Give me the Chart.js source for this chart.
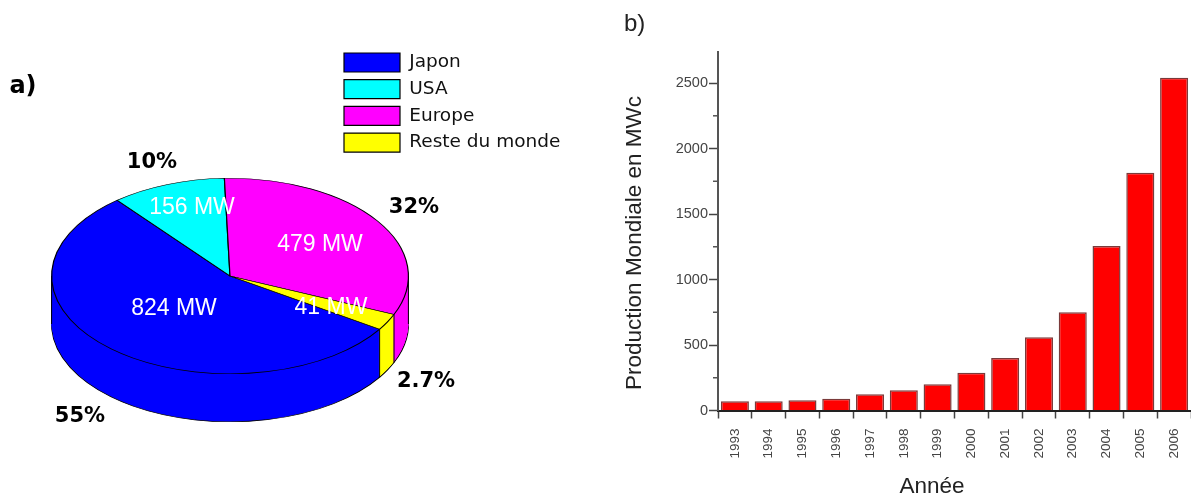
<!DOCTYPE html>
<html>
<head>
<meta charset="utf-8">
<title>Production photovoltaique</title>
<script src="https://cdn.jsdelivr.net/npm/chart.js@4/dist/chart.umd.min.js"></script>
<style>
    html, body { margin: 0; padding: 0; background: #fff; }
    #wrap { position: relative; width: 1191px; height: 498px; overflow: hidden; }
    #pieBox { position: absolute; left: 0; top: 0; width: 620px; height: 498px; filter: blur(0.5px); }
    #barBox { position: absolute; left: 620px; top: 0; width: 571px; height: 498px; filter: blur(0.5px); }
</style>
</head>
<body>
<div id="wrap">
    <div id="pieBox"><canvas id="pieChart" width="620" height="498"></canvas></div>
    <div id="barBox"><canvas id="barChart" width="571" height="498"></canvas></div>
</div>
<script>
// a) repartition par region
const regions = ["Japon", "USA", "Europe", "Reste du monde"];
const regionMW = [824, 156, 479, 41];
const regionPercent = ["55%", "10%", "32%", "2.7%"];
const regionColors = ["#0000ff", "#00ffff", "#ff00ff", "#ffff00"];

// b) production mondiale
const years = ["1993", "1994", "1995", "1996", "1997", "1998", "1999", "2000", "2001", "2002", "2003", "2004", "2005", "2006"];
const production = [70, 70, 78, 90, 125, 155, 200, 288, 400, 560, 750, 1255, 1815, 2540];
const majorTicks = [0, 500, 1000, 1500, 2000, 2500];
const minorTicks = [250, 750, 1250, 1750, 2250];

const PIE_FLATTEN = 0.548;
const PIE_CENTER_Y = 276;
const PIE_DEPTH = 48;

// moves the flat Chart.js pie to the tilted ellipse, dy pushes it down the side wall
function tilt(chart, dy) {
    const ctx = chart.ctx;
    const area = chart.chartArea;
    const midY = (area.top + area.bottom) / 2;
    ctx.translate(0, PIE_CENTER_Y + dy);
    ctx.scale(1, PIE_FLATTEN);
    ctx.translate(0, -midY);
}

function drawLayer(chart, dy, withBorder) {
    const ctx = chart.ctx;
    ctx.save();
    tilt(chart, dy);
    chart.getDatasetMeta(0).data.forEach(arc => {
        const opts = arc.options;
        if (!withBorder) arc.options = { ...opts, borderWidth: 0 };
        arc.draw(ctx);
        arc.options = opts;
    });
    ctx.restore();
}

const piePlugin = {
    id: "pie3d",
    afterLayout(chart) {
        // legend sits top right of the pie, not inside it
        const legend = chart.legend;
        const pad = legend.options.labels.padding;
        legend.left = 344 - pad;
        legend.top = 53 - pad;
        legend.right = legend.left + legend.width;
        legend.bottom = legend.top + legend.height;
    },
    beforeDatasetsDraw(chart) {
        const ctx = chart.ctx;
        drawLayer(chart, PIE_DEPTH, true);
        for (let d = PIE_DEPTH - 1; d > 0; d--) drawLayer(chart, d, false);

        // vertical edges of the wall
        const arcs = chart.getDatasetMeta(0).data;
        const first = arcs[0];
        const edges = [0, Math.PI].concat(arcs.map(a => a.startAngle));
        ctx.save();
        ctx.strokeStyle = "#000";
        ctx.lineWidth = 1;
        edges.filter(a => Math.sin(a) >= -1e-6).forEach(a => {
            const x = first.x + first.outerRadius * Math.cos(a);
            const y = PIE_CENTER_Y + PIE_FLATTEN * first.outerRadius * Math.sin(a);
            ctx.beginPath();
            ctx.moveTo(x, y);
            ctx.lineTo(x, y + PIE_DEPTH);
            ctx.stroke();
        });
        ctx.restore();

        ctx.save();
        tilt(chart, 0);
    },
    afterDatasetsDraw(chart) {
        chart.ctx.restore();
    },
    afterDraw(chart) {
        const ctx = chart.ctx;
        ctx.save();
        ctx.textAlign = "center";
        ctx.textBaseline = "middle";
        // MW labels in white, on the slices
        const mwPos = [[174, 309], [192, 208], [320, 245], [331, 308]];
        ctx.fillStyle = "#fff";
        ctx.font = "23px 'Liberation Sans'";
        regionMW.forEach((v, i) => ctx.fillText(v + " MW", mwPos[i][0], mwPos[i][1]));
        // percentages around the pie
        const pctPos = [[80, 417], [152, 163], [414, 208], [426, 382]];
        ctx.fillStyle = "#000";
        ctx.font = "bold 21px 'DejaVu Sans'";
        regionPercent.forEach((t, i) => ctx.fillText(t, pctPos[i][0], pctPos[i][1]));
        ctx.font = "bold 24px 'DejaVu Sans'";
        ctx.fillText("a)", 23, 87);
        ctx.restore();
    }
};

new Chart(document.getElementById("pieChart"), {
    type: "pie",
    data: {
        labels: regions,
        datasets: [{
            data: regionMW,
            backgroundColor: regionColors,
            borderColor: "#000",
            borderWidth: 1.2,
            clip: false
        }]
    },
    options: {
        responsive: false,
        animation: false,
        rotation: 123,
        layout: { padding: { left: 51, right: 211 } },
        plugins: {
            tooltip: { enabled: false },
            legend: {
                position: "chartArea",
                align: "start",
                labels: {
                    boxWidth: 56,
                    boxHeight: 19,
                    padding: 7.7,
                    color: "#111",
                    font: { family: "'DejaVu Sans'", size: 18.5 }
                }
            }
        }
    },
    plugins: [piePlugin]
});

// small unlabelled ticks, axis titles and the b) tag
const barExtras = {
    id: "barExtras",
    afterDraw(chart) {
        const ctx = chart.ctx;
        const y = chart.scales.y;
        ctx.save();
        ctx.strokeStyle = "#555";
        ctx.lineWidth = 1.5;
        minorTicks.forEach(v => {
            const py = y.getPixelForValue(v);
            ctx.beginPath();
            ctx.moveTo(y.right - 5, py);
            ctx.lineTo(y.right, py);
            ctx.stroke();
        });
        ctx.fillStyle = "#222";
        ctx.textBaseline = "middle";
        ctx.font = "24px 'Liberation Sans'";
        ctx.textAlign = "left";
        ctx.fillText("b)", 4, 24);
        ctx.font = "22.5px 'Liberation Sans'";
        ctx.textAlign = "center";
        ctx.fillText("Année", 312, 487);
        ctx.translate(15, 243);
        ctx.rotate(-Math.PI / 2);
        ctx.fillText("Production Mondiale en MWc", 0, 0);
        ctx.restore();
    }
};

new Chart(document.getElementById("barChart"), {
    type: "bar",
    data: {
        labels: years,
        datasets: [{
            data: production,
            backgroundColor: "#ff0000",
            borderColor: "#7a3a3a",
            borderWidth: 1.5,
            barPercentage: 0.83,
            categoryPercentage: 1
        }]
    },
    options: {
        responsive: false,
        animation: false,
        layout: { padding: { top: 52 } },
        plugins: { legend: { display: false }, tooltip: { enabled: false } },
        scales: {
            x: {
                afterFit(scale) {
                    scale.height = 87.5;
                    scale.paddingLeft = 0;
                    scale.paddingRight = 0;
                },
                grid: { drawOnChartArea: false, tickLength: 8, tickColor: "#444", tickWidth: 1.5 },
                border: { color: "#222", width: 2 },
                ticks: {
                    minRotation: 90,
                    maxRotation: 90,
                    autoSkip: false,
                    padding: 10,
                    color: "#444",
                    font: { family: "'Liberation Sans'", size: 13.5 }
                }
            },
            y: {
                min: 0,
                max: 2737,
                afterBuildTicks(scale) { scale.ticks = majorTicks.map(v => ({ value: v })); },
                afterFit(scale) { scale.width = 98; },
                grid: { drawOnChartArea: false, tickLength: 9, tickColor: "#444", tickWidth: 1.5 },
                border: { color: "#555", width: 2 },
                ticks: {
                    padding: 1,
                    color: "#444",
                    callback: v => String(v),
                    font: { family: "'Liberation Sans'", size: 14.5 }
                }
            }
        }
    },
    plugins: [barExtras]
});
</script>
</body>
</html>
